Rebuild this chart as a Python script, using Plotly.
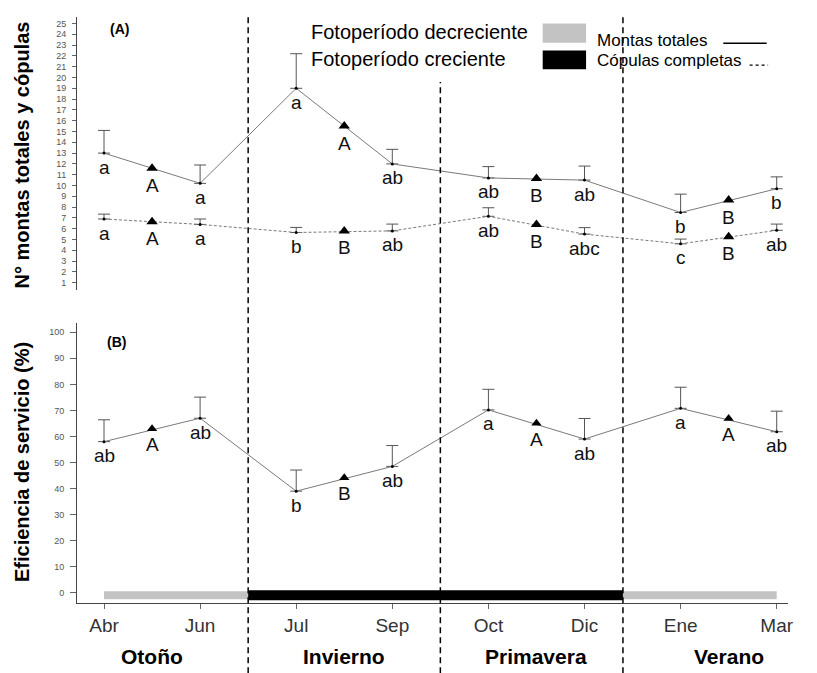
import plotly.graph_objects as go

# ---------------- data ----------------
months = ["Abr", "Jun", "Jul", "Sep", "Oct", "Dic", "Ene", "Mar"]
month_pos = [0, 2, 4, 6, 8, 10, 12, 14]
seasons = ["Otoño", "Invierno", "Primavera", "Verano"]
season_pos = [1, 5, 9, 13]

# Panel A: montas totales (monthly means + upper SE) and season means
montas = [13.0, 10.2, 19.0, 12.0, 10.7, 10.5, 7.5, 9.7]
montas_err = [2.1, 1.7, 3.2, 1.35, 1.05, 1.3, 1.7, 1.1]
montas_season = [11.6, 15.5, 10.65, 8.65]
montas_letters = ["a", "a", "a", "ab", "ab", "ab", "b", "b"]
montas_season_letters = ["A", "A", "B", "B"]

# Panel A: cópulas completas
copulas = [6.9, 6.4, 5.65, 5.8, 7.15, 5.5, 4.6, 5.85]
copulas_err = [0.45, 0.5, 0.47, 0.63, 0.79, 0.6, 0.44, 0.58]
copulas_season = [6.65, 5.8, 6.4, 5.25]
copulas_letters = ["a", "a", "b", "ab", "ab", "abc", "c", "ab"]
copulas_season_letters = ["A", "B", "B", "B"]

# Panel B: eficiencia de servicio (%)
efic = [58.0, 67.0, 39.0, 48.5, 70.2, 59.0, 70.8, 61.8]
efic_err = [8.4, 8.1, 8.1, 8.0, 7.9, 7.9, 8.1, 7.9]
efic_season = [63.0, 44.1, 65.1, 66.9]
efic_letters = ["ab", "ab", "b", "ab", "a", "ab", "a", "ab"]
efic_season_letters = ["A", "B", "A", "A"]

# photoperiod bar segments and season separators
photo_breaks = [0, 3, 10.8, 14]
photo_colors = ["#c3c3c3", "#000000", "#c3c3c3"]
photo_widths = [8, 10, 8]
season_bounds = [3, 7, 10.8]
season_bound_top = [1.003, 0.889, 1.003]

FONT = "Liberation Sans, Arial, sans-serif"
LINE_GRAY = "#7a7a7a"
ERR_GRAY = "#555555"

fig = go.Figure()

# ---- Panel A traces ----
fig.add_trace(go.Scatter(
    x=month_pos, y=montas, mode="lines+markers",
    line=dict(color=LINE_GRAY, width=1),
    marker=dict(color="black", size=3),
    error_y=dict(type="data", array=montas_err, arrayminus=[0] * len(montas),
                 symmetric=False, color=ERR_GRAY, thickness=1, width=6),
    xaxis="x", yaxis="y", showlegend=False, hoverinfo="skip"))
fig.add_trace(go.Scatter(
    x=season_pos, y=montas_season, mode="markers",
    marker=dict(color="black", size=10, symbol="triangle-up"),
    xaxis="x", yaxis="y", showlegend=False, hoverinfo="skip"))
fig.add_trace(go.Scatter(
    x=month_pos, y=copulas, mode="lines+markers",
    line=dict(color=LINE_GRAY, width=1, dash="3px,2px"),
    marker=dict(color="black", size=3),
    error_y=dict(type="data", array=copulas_err, arrayminus=[0] * len(copulas),
                 symmetric=False, color=ERR_GRAY, thickness=1, width=6),
    xaxis="x", yaxis="y", showlegend=False, hoverinfo="skip"))
fig.add_trace(go.Scatter(
    x=season_pos, y=copulas_season, mode="markers",
    marker=dict(color="black", size=10, symbol="triangle-up"),
    xaxis="x", yaxis="y", showlegend=False, hoverinfo="skip"))

# ---- Panel B traces ----
for i in range(len(photo_colors)):
    fig.add_trace(go.Scatter(
        x=[photo_breaks[i], photo_breaks[i + 1]], y=[-1, -1], mode="lines",
        line=dict(color=photo_colors[i], width=photo_widths[i]),
        xaxis="x2", yaxis="y2", showlegend=False, hoverinfo="skip"))
fig.add_trace(go.Scatter(
    x=month_pos, y=efic, mode="lines+markers",
    line=dict(color=LINE_GRAY, width=1),
    marker=dict(color="black", size=3),
    error_y=dict(type="data", array=efic_err, arrayminus=[0] * len(efic),
                 symmetric=False, color=ERR_GRAY, thickness=1, width=6),
    xaxis="x2", yaxis="y2", showlegend=False, hoverinfo="skip"))
fig.add_trace(go.Scatter(
    x=season_pos, y=efic_season, mode="markers",
    marker=dict(color="black", size=9, symbol="triangle-up"),
    xaxis="x2", yaxis="y2", showlegend=False, hoverinfo="skip"))

# ---- letter annotations ----
annotations = []


def add_letters(xs, ys, letters, xref, yref, shift):
    for xv, yv, t in zip(xs, ys, letters):
        annotations.append(dict(
            x=xv, y=yv, xref=xref, yref=yref, text=t, showarrow=False,
            yanchor="middle", xanchor="center", yshift=shift,
            font=dict(family=FONT, size=19, color="#111111")))


add_letters(month_pos, montas, montas_letters, "x", "y", -14)
add_letters(season_pos, montas_season, montas_season_letters, "x", "y", -17)
add_letters(month_pos, copulas, copulas_letters, "x", "y", -14)
add_letters(season_pos, copulas_season, copulas_season_letters, "x", "y", -17)
add_letters(month_pos, efic, efic_letters, "x2", "y2", -14)
add_letters(season_pos, efic_season, efic_season_letters, "x2", "y2", -16)

# season names under the x axis
for s, p in zip(seasons, season_pos):
    annotations.append(dict(
        x=p, y=-0.0915, xref="x2", yref="paper", text="<b>%s</b>" % s,
        showarrow=False, xanchor="center", yanchor="middle",
        font=dict(family=FONT, size=21, color="black")))

# panel tags
annotations.append(dict(x=0.0436, y=0.979, xref="paper", yref="paper",
                        text="<b>(A)</b>", showarrow=False, xanchor="left",
                        yanchor="middle", font=dict(family=FONT, size=14, color="black")))
annotations.append(dict(x=0.0395, y=0.446, xref="paper", yref="paper",
                        text="<b>(B)</b>", showarrow=False, xanchor="left",
                        yanchor="middle", font=dict(family=FONT, size=14, color="black")))

# axis titles
annotations.append(dict(x=-0.077, y=0.764, xref="paper", yref="paper",
                        text="<b>N° montas totales y cópulas</b>", textangle=-90,
                        showarrow=False, xanchor="center", yanchor="middle",
                        font=dict(family=FONT, size=20, color="black")))
annotations.append(dict(x=-0.077, y=0.241, xref="paper", yref="paper",
                        text="<b>Eficiencia de servicio (%)</b>", textangle=-90,
                        showarrow=False, xanchor="center", yanchor="middle",
                        font=dict(family=FONT, size=20, color="black")))

# legend texts
annotations.append(dict(x=0.326, y=0.974, xref="paper", yref="paper",
                        text="Fotoperíodo decreciente", showarrow=False,
                        xanchor="left", yanchor="middle",
                        font=dict(family=FONT, size=20, color="black")))
annotations.append(dict(x=0.326, y=0.929, xref="paper", yref="paper",
                        text="Fotoperíodo creciente", showarrow=False,
                        xanchor="left", yanchor="middle",
                        font=dict(family=FONT, size=20, color="black")))
annotations.append(dict(x=0.729, y=0.960, xref="paper", yref="paper",
                        text="Montas totales", showarrow=False,
                        xanchor="left", yanchor="middle",
                        font=dict(family=FONT, size=17, color="black")))
annotations.append(dict(x=0.729, y=0.926, xref="paper", yref="paper",
                        text="Cópulas completas", showarrow=False,
                        xanchor="left", yanchor="middle",
                        font=dict(family=FONT, size=17, color="black")))

# ---- shapes ----
shapes = []
for b, top in zip(season_bounds, season_bound_top):
    shapes.append(dict(type="line", xref="x2", yref="paper", x0=b, x1=b,
                       y0=-0.12, y1=top,
                       line=dict(color="black", width=1.5, dash="6px,4px")))
# legend boxes
shapes.append(dict(type="rect", xref="paper", yref="paper",
                   x0=0.655, x1=0.716, y0=0.956, y1=0.989,
                   fillcolor="#c3c3c3", line=dict(width=0)))
shapes.append(dict(type="rect", xref="paper", yref="paper",
                   x0=0.655, x1=0.716, y0=0.911, y1=0.943,
                   fillcolor="black", line=dict(width=0)))
shapes.append(dict(type="line", xref="paper", yref="paper",
                   x0=0.909, x1=0.970, y0=0.955, y1=0.955,
                   line=dict(color="black", width=1.5)))
shapes.append(dict(type="line", xref="paper", yref="paper",
                   x0=0.946, x1=0.972, y0=0.918, y1=0.918,
                   line=dict(color="black", width=1.2, dash="dot")))

xrange = [-0.562, 14.235]

fig.update_layout(
    width=817, height=673,
    margin=dict(l=77, r=29, t=17, b=70),
    paper_bgcolor="white", plot_bgcolor="white",
    font=dict(family=FONT, color="#333333"),
    annotations=annotations, shapes=shapes,
    xaxis=dict(domain=[0, 1], anchor="y", range=xrange, showline=False,
               showticklabels=False, ticks="", showgrid=False, zeroline=False),
    yaxis=dict(domain=[0.534, 1], anchor="x", range=[0.32, 25.6],
               tickvals=list(range(1, 26)), showline=True, linecolor="#444",
               linewidth=1, ticks="outside", ticklen=4, tickcolor="#666",
               tickfont=dict(size=9, color="#555", family=FONT),
               showgrid=False, zeroline=False, ticklabelstandoff=4),
    xaxis2=dict(domain=[0, 1], anchor="y2", range=xrange,
                tickvals=month_pos, ticktext=months, showline=True,
                linecolor="#444", linewidth=1, ticks="outside", ticklen=5,
                tickcolor="#666", tickfont=dict(size=19, color="#333", family=FONT),
                showgrid=False, zeroline=False),
    yaxis2=dict(domain=[0, 0.478], anchor="x2", range=[-3.95, 103.6],
                tickvals=list(range(0, 101, 10)), showline=True, linecolor="#444",
                linewidth=1, ticks="outside", ticklen=6, tickcolor="#666",
                tickfont=dict(size=9, color="#555", family=FONT),
                showgrid=False, zeroline=False, ticklabelstandoff=4),
)

fig.write_html(
    "out.html",
    config={"displayModeBar": False},
    post_script="document.body.style.margin='0';document.body.style.overflow='hidden';",
)
